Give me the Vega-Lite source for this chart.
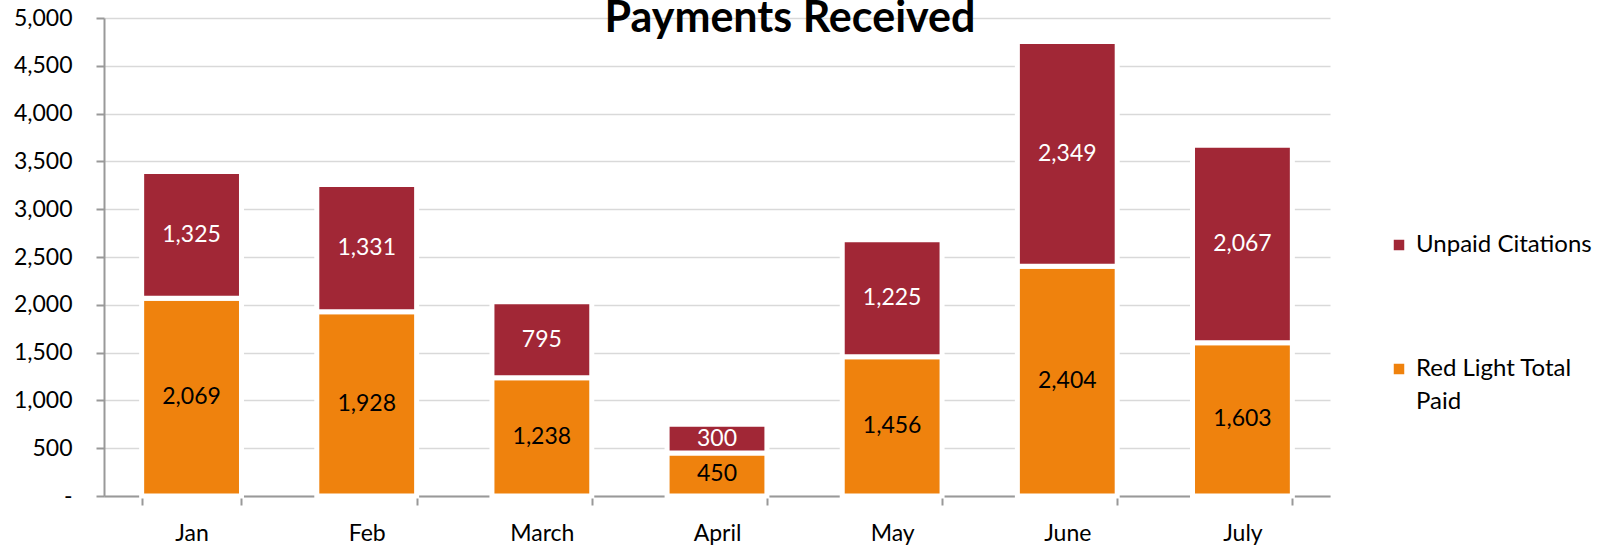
{
  "$schema": "https://vega.github.io/schema/vega-lite/v6.json",
  "autosize": {"type": "none"},
  "width": 1226,
  "height": 478,
  "padding": {"left": 104, "top": 18, "right": 278, "bottom": 50},
  "background": "white",
  "title": {
    "text": "Payments Received",
    "font": "Lato",
    "fontSize": 43,
    "fontWeight": "bold",
    "color": "black",
    "anchor": "middle",
    "frame": "group",
    "baseline": "alphabetic",
    "offset": 0,
    "dy": 68,
    "dx": 73
  },
  "config": {
    "view": {"stroke": null},
    "font": "Lato",
    "style": {"guide-label": {"lineHeight": 33}}
  },
  "data": {
    "values": [
      {"month": "Jan", "series": "Red Light Total Paid", "value": 2069},
      {"month": "Jan", "series": "Unpaid Citations", "value": 1325},
      {"month": "Feb", "series": "Red Light Total Paid", "value": 1928},
      {"month": "Feb", "series": "Unpaid Citations", "value": 1331},
      {"month": "March", "series": "Red Light Total Paid", "value": 1238},
      {"month": "March", "series": "Unpaid Citations", "value": 795},
      {"month": "April", "series": "Red Light Total Paid", "value": 450},
      {"month": "April", "series": "Unpaid Citations", "value": 300},
      {"month": "May", "series": "Red Light Total Paid", "value": 1456},
      {"month": "May", "series": "Unpaid Citations", "value": 1225},
      {"month": "June", "series": "Red Light Total Paid", "value": 2404},
      {"month": "June", "series": "Unpaid Citations", "value": 2349},
      {"month": "July", "series": "Red Light Total Paid", "value": 1603},
      {"month": "July", "series": "Unpaid Citations", "value": 2067}
    ]
  },
  "encoding": {
    "x": {
      "field": "month",
      "type": "nominal",
      "sort": ["Jan", "Feb", "March", "April", "May", "June", "July"],
      "scale": {"paddingInner": 0.43, "paddingOuter": 0.215},
      "axis": {
        "title": null,
        "labelAngle": 0,
        "labelFont": "Lato",
        "labelFontSize": 23,
        "labelColor": "black",
        "labelPadding": 17,
        "domainColor": "#999999",
        "domainWidth": 2,
        "tickColor": "#999999",
        "tickWidth": 2,
        "tickSize": 9,
        "tickBand": "extent",
        "grid": false
      }
    },
    "y": {
      "field": "value",
      "type": "quantitative",
      "stack": "zero",
      "scale": {"domain": [0, 5000], "nice": false},
      "axis": {
        "title": null,
        "values": [0, 500, 1000, 1500, 2000, 2500, 3000, 3500, 4000, 4500, 5000],
        "labelExpr": "datum.value == 0 ? '-\u00a0\u00a0' : format(datum.value, ',')",
        "labelFont": "Lato",
        "labelFontSize": 23,
        "labelColor": "black",
        "labelPadding": 24,
        "domainColor": "#999999",
        "domainWidth": 2,
        "tickColor": "#999999",
        "tickWidth": 2,
        "tickSize": 8,
        "gridColor": "#D9D9D9",
        "gridWidth": 1.5
      }
    },
    "order": {"field": "series", "sort": "ascending"}
  },
  "layer": [
    {
      "mark": {"type": "bar", "stroke": "white", "strokeWidth": 5},
      "encoding": {
        "color": {
          "field": "series",
          "type": "nominal",
          "scale": {
            "domain": ["Unpaid Citations", "Red Light Total Paid"],
            "range": ["#A12736", "#EF820D"]
          },
          "legend": {
            "title": null,
            "orient": "none",
            "legendX": 1283,
            "legendY": 215,
            "symbolType": "square",
            "symbolSize": 110,
            "symbolStrokeWidth": 0,
            "labelFont": "Lato",
            "labelFontSize": 24,
            "labelColor": "black",
            "labelOffset": 5,
            "labelLimit": 300,
            "rowPadding": 100,
            "labelExpr": "datum.label == 'Red Light Total Paid' ? ['Red Light Total', 'Paid'] : datum.label"
          }
        }
      }
    },
    {
      "mark": {"type": "text", "font": "Lato", "fontSize": 23, "baseline": "middle", "align": "center"},
      "encoding": {
        "y": {"field": "value", "type": "quantitative", "stack": "zero", "bandPosition": 0.5},
        "detail": {"field": "series", "type": "nominal"},
        "text": {"field": "value", "type": "quantitative", "format": ","},
        "color": {
          "condition": {"test": "datum.series == 'Unpaid Citations'", "value": "white"},
          "value": "black"
        }
      }
    }
  ]
}
